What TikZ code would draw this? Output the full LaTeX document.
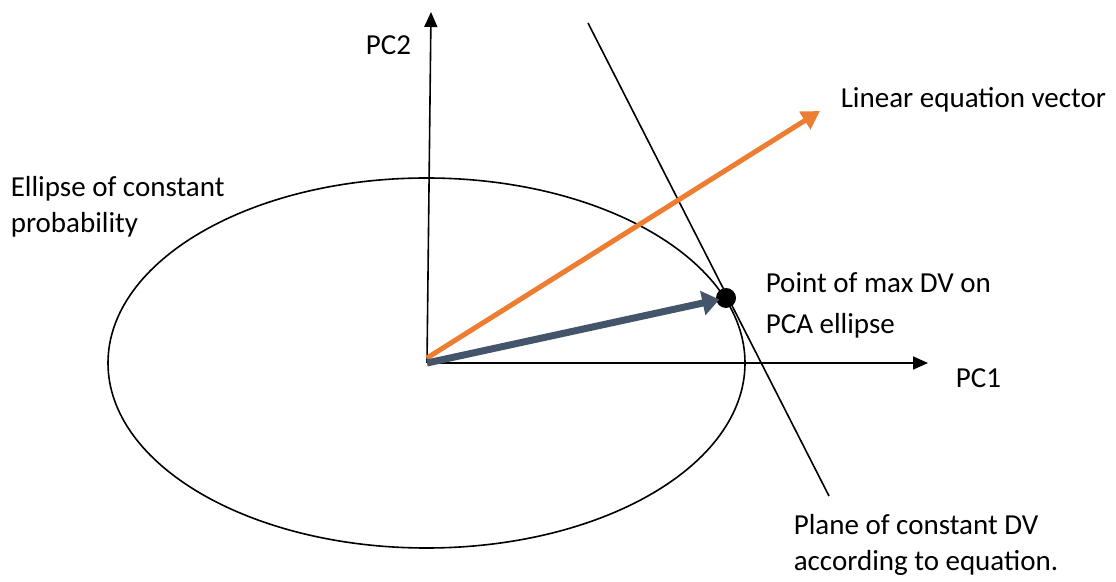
\documentclass[tikz,border=0pt]{standalone}
\usepackage{fontspec}
\setmainfont{Carlito}
\usetikzlibrary{arrows.meta}
\definecolor{orng}{HTML}{ED7D31}
\definecolor{slate}{HTML}{44546A}
\newcommand{\lbl}[5]{\node[anchor=base west,inner sep=0pt,align=left,font=\fontsize{29}{#4}\selectfont] (#1) at (#2,#3) {#5};}

\begin{document}
\begin{tikzpicture}[x=1pt,y=1pt,line width=1.6pt]
\useasboundingbox (0,0) rectangle (1116,581);
\coordinate (origin) at (427,218);
\coordinate (pctwo) at (431,569);
\coordinate (pcone) at (928,218);
\coordinate (planetop) at (588,558);
\coordinate (planebot) at (829,85);
\coordinate (lintip) at (820,470);
\draw (426.5,218) ellipse [x radius=318.5,y radius=185];
\draw[-{Triangle[length=15pt,width=13pt]}] (origin) -- (pctwo);
\draw[-{Triangle[length=15pt,width=13pt]}] (origin) -- (pcone);
\draw (planetop) -- (planebot);
\draw[orng,line width=5pt,-{Triangle[length=18pt,width=20pt]}] ([yshift=5pt]origin) -- (lintip);
\node[circle,fill=black,inner sep=0pt,minimum size=20pt] (maxdv) at (726,283) {};
\draw[slate,line width=7pt,-{Triangle[length=17pt,width=24pt]},shorten >=-4pt] (origin) -- (maxdv);
% last line baseline given for two-line labels
\lbl{pctwolbl}{365}{526}{36}{PC2}
\lbl{linlbl}{840}{473}{36}{Linear equation vector}
\lbl{elllbl}{10}{348}{36}{Ellipse of constant\\probability}
\lbl{maxlbl}{765}{247}{41}{Point of max DV on\\PCA ellipse}
\lbl{pconelbl}{955}{193}{36}{PC1}
\lbl{planelbl}{793}{11}{36}{Plane of constant DV\\according to equation.}
\end{tikzpicture}
\end{document}
